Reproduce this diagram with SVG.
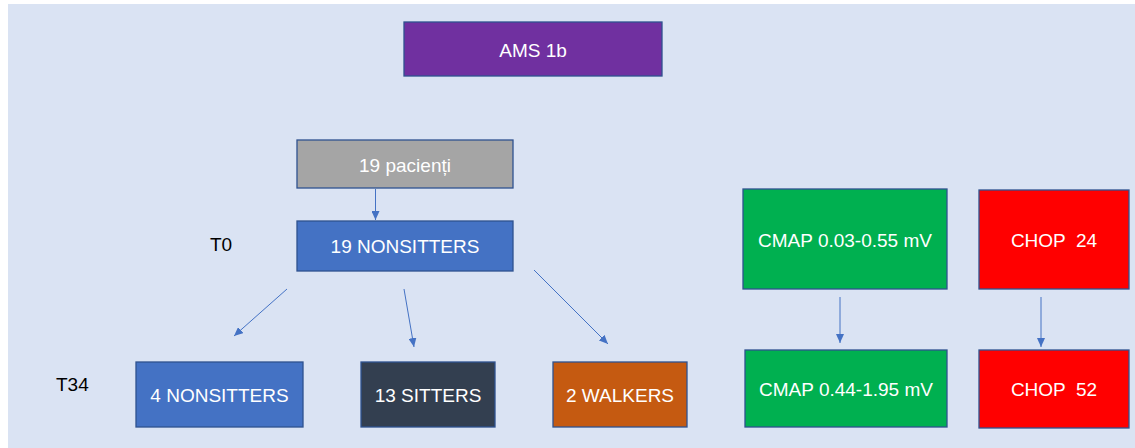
<svg xmlns="http://www.w3.org/2000/svg" width="1135" height="448" viewBox="0 0 1135 448">
<style>
.box{stroke:#2f528f;stroke-width:1.3}
.lbl{font-family:"Liberation Sans",Arial,sans-serif;font-size:19px;fill:#ffffff;text-anchor:middle}
.side{font-family:"Liberation Sans",Arial,sans-serif;font-size:19px;fill:#000000}
.conn{stroke:#4472c4;stroke-width:1;fill:none;marker-end:url(#arr)}
</style>
<defs>
<marker id="arr" markerUnits="userSpaceOnUse" markerWidth="10" markerHeight="8" refX="9" refY="4" orient="auto">
<path d="M0,0 L9,4 L0,8 Z" fill="#4472c4"/>
</marker>
</defs>
<rect x="0" y="0" width="1135" height="448" fill="#ffffff"/>
<rect x="8" y="4" width="1127" height="444" fill="#dae3f3"/>
<g id="ams"><rect class="box" x="404" y="22" width="258" height="54" fill="#7030a0"/><text class="lbl" x="533" y="57">AMS 1b</text></g>
<g id="pacienti"><rect class="box" x="297" y="140" width="216" height="48" fill="#a5a5a5"/><text class="lbl" x="405" y="172" fill="#f2f2f2">19 pacienți</text></g>
<g id="t0"><text class="side" x="210" y="251">T0</text></g>
<g id="nonsitters19"><rect class="box" x="297" y="221" width="216" height="50" fill="#4472c4"/><text class="lbl" x="405" y="253">19 NONSITTERS</text></g>
<g id="t34"><text class="side" x="56" y="391">T34</text></g>
<g id="nonsitters4"><rect class="box" x="136" y="362" width="167" height="65" fill="#4472c4"/><text class="lbl" x="219.5" y="402">4 NONSITTERS</text></g>
<g id="sitters13"><rect class="box" x="361" y="362" width="134" height="65" fill="#333f50"/><text class="lbl" x="428" y="402">13 SITTERS</text></g>
<g id="walkers2"><rect class="box" x="553" y="362" width="134" height="65" fill="#c55a11"/><text class="lbl" x="620" y="402">2 WALKERS</text></g>
<g id="cmap1"><rect class="box" x="743" y="189" width="204" height="100" fill="#00b050"/><text class="lbl" x="845" y="247">CMAP 0.03-0.55 mV</text></g>
<g id="chop24"><rect class="box" x="979" y="190" width="150" height="99" fill="#ff0000"/><text class="lbl" x="1054" y="247" xml:space="preserve">CHOP  24</text></g>
<g id="cmap2"><rect class="box" x="745" y="350" width="202" height="77" fill="#00b050"/><text class="lbl" x="846" y="396">CMAP 0.44-1.95 mV</text></g>
<g id="chop52"><rect class="box" x="979" y="350" width="150" height="78" fill="#ff0000"/><text class="lbl" x="1054" y="396" xml:space="preserve">CHOP  52</text></g>
<g id="connectors">
<line class="conn" x1="375.5" y1="189" x2="375.5" y2="220"/>
<line class="conn" x1="287" y1="289" x2="234" y2="336"/>
<line class="conn" x1="404" y1="289" x2="414" y2="347"/>
<line class="conn" x1="534" y1="270" x2="608" y2="344"/>
<line class="conn" x1="840" y1="297" x2="840" y2="343"/>
<line class="conn" x1="1041" y1="297" x2="1041" y2="347"/>
</g>
</svg>
